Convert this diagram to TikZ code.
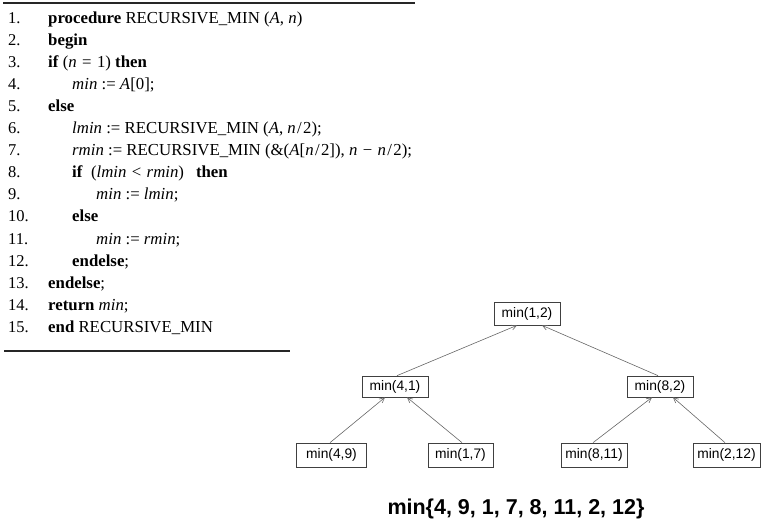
\documentclass[tikz,border=0pt]{standalone}
\usepackage{fontspec}
\setmainfont{Liberation Serif}
\newfontfamily\arialfont{Liberation Sans}
\usetikzlibrary{arrows.meta}
\tikzset{
  lnum/.style={anchor=base west, inner sep=0pt, font=\fontsize{16.5}{18}\selectfont},
  code/.style={anchor=base west, inner sep=0pt, font=\fontsize{16.8}{18}\selectfont},
  tbox/.style={draw=black!75, line width=0.7pt, rectangle, inner sep=0pt, minimum height=23pt, minimum width=66pt, font=\arialfont\fontsize{13.8}{15}\selectfont},
  tarrow/.style={draw=black!60, line width=0.6pt, -{Straight Barb[length=5pt,width=5pt]}},
  rulebar/.style={line width=2pt, draw=black!85}
}
\newcommand{\kw}[1]{\textbf{#1}}
\newcommand{\vv}[1]{\textit{#1}}
\newcommand{\msp}{\hspace{0.32em}}
\newcommand{\ssp}{\hspace{0.08em}}
\begin{document}
\begin{tikzpicture}[x=1pt,y=-1pt]
\useasboundingbox (0,0) rectangle (779,525);
% rules
\draw[rulebar] (3,2.5) -- (415,2.5);
\draw[rulebar] (4,351) -- (290,351);
% line numbers
\foreach \i in {1,...,15} {
  \node[lnum] (n\i) at (8, {23+(\i-1)*22.1}) {\i.};
}
\node[code] (c1) at (48, 23.0) {\kw{procedure} RECURSIVE\_MIN (\vv{A}, \vv{n})};
\node[code] (c2) at (48, 45.1) {\kw{begin}};
\node[code] (c3) at (48, 67.2) {\kw{if} (\vv{n}\msp=\msp1) \kw{then}};
\node[code] (c4) at (72, 89.3) {\vv{min} := \vv{A}[0];};
\node[code] (c5) at (48, 111.4) {\kw{else}};
\node[code] (c6) at (72, 133.5) {\vv{lmin} := RECURSIVE\_MIN (\vv{A}, \vv{n}\ssp/\ssp2);};
\node[code] (c7) at (72, 155.6) {\vv{rmin} := RECURSIVE\_MIN (\&(\vv{A}[\vv{n}\ssp/\ssp2]),\ \vv{n}\msp−\msp\vv{n}\ssp/\ssp2);};
\node[code] (c8) at (72, 177.7) {\kw{if}\ \ (\vv{lmin}\msp<\msp\vv{rmin})\hspace{12pt}\kw{then}};
\node[code] (c9) at (96, 199.8) {\vv{min} := \vv{lmin};};
\node[code] (c10) at (72, 221.9) {\kw{else}};
\node[code] (c11) at (96, 244.0) {\vv{min} := \vv{rmin};};
\node[code] (c12) at (72, 266.1) {\kw{endelse};};
\node[code] (c13) at (48, 288.2) {\kw{endelse};};
\node[code] (c14) at (48, 310.3) {\kw{return} \vv{min};};
\node[code] (c15) at (48, 332.4) {\kw{end} RECURSIVE\_MIN};
% tree
\node[tbox] (r) at (527,313.5) {min(1,2)};
\node[tbox, minimum height=21pt] (a) at (395,386.5) {min(4,1)};
\node[tbox, minimum height=21pt] (b) at (660,386.5) {min(8,2)};
\node[tbox, minimum width=70pt, minimum height=24pt] (a1) at (331.5,455) {min(4,9)};
\node[tbox, minimum width=65pt, minimum height=24pt] (a2) at (460.5,455) {min(1,7)};
\node[tbox, minimum width=66pt, minimum height=24pt] (b1) at (594,455) {min(8,11)};
\node[tbox, minimum width=67pt, minimum height=24pt] (b2) at (726.5,455) {min(2,12)};
\draw[tarrow] ([xshift=2pt]a.north) -- ([xshift=-10pt]r.south);
\draw[tarrow] ([xshift=-2pt]b.north) -- ([xshift=15pt]r.south);
\draw[tarrow] ([xshift=-1.5pt]a1.north) -- ([xshift=-10pt]a.south);
\draw[tarrow] ([xshift=1.5pt]a2.north) -- ([xshift=12pt]a.south);
\draw[tarrow] ([xshift=-1pt]b1.north) -- ([xshift=-8pt]b.south);
\draw[tarrow] ([xshift=-1.5pt]b2.north) -- ([xshift=13pt]b.south);
% bottom label
\node[anchor=base, inner sep=0pt, font=\arialfont\bfseries\fontsize{21.5}{24}\selectfont] (lbl) at (516,514) {min\{4, 9, 1, 7, 8, 11, 2, 12\}};
\end{tikzpicture}
\end{document}
